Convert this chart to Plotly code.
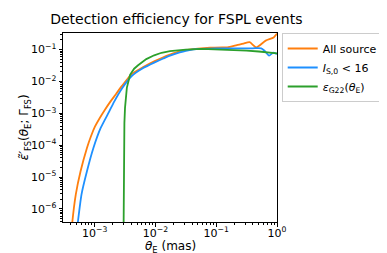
import plotly.graph_objects as go

# Data (log10 theta_E [mas], log10 efficiency)
all_lx = [-3.40, -3.373, -3.31, -3.231, -3.126, -3.06, -2.995, -2.92, -2.838, -2.732, -2.65, -2.55, -2.39, -2.2, -2.02, -1.87, -1.76, -1.6, -1.5, -1.3, -1.1, -0.9, -0.815, -0.66, -0.55, -0.45, -0.343, -0.186, -0.055, 0.0]
all_ly = [-7.2, -6.53, -5.55, -4.82, -4.09, -3.72, -3.42, -3.16, -2.91, -2.61, -2.40, -2.14, -1.77, -1.55, -1.37, -1.24, -1.16, -1.06, -1.02, -0.97, -0.94, -0.93, -0.93, -0.86, -0.81, -0.77, -0.93, -0.72, -0.62, -0.50]

bright_lx = [-3.30, -3.283, -3.216, -3.126, -3.02, -2.90, -2.759, -2.68, -2.55, -2.39, -2.2, -2.02, -1.87, -1.76, -1.6, -1.5, -1.3, -1.0, -0.7, -0.4, -0.26, -0.21, -0.13, -0.066, 0.0]
bright_ly = [-6.8, -6.53, -5.55, -4.82, -4.09, -3.46, -2.94, -2.64, -2.22, -1.83, -1.58, -1.41, -1.28, -1.19, -1.09, -1.04, -0.98, -0.96, -0.96, -0.96, -0.96, -1.03, -1.19, -1.10, -1.14]

g22_lx = [-2.525, -2.522, -2.518, -2.51, -2.50, -2.47, -2.417, -2.35, -2.29, -2.15, -2.02, -1.9, -1.76, -1.6, -1.5, -1.24, -1.0, -0.7, -0.5, -0.3, -0.15, 0.0]
g22_ly = [-7.0, -6.0, -4.5, -3.3, -2.83, -2.2, -1.79, -1.6, -1.5, -1.3, -1.18, -1.1, -1.05, -1.02, -1.0, -0.98, -0.99, -1.0, -1.03, -1.06, -1.09, -1.12]

x_tickvals = [1e-3, 1e-2, 1e-1, 1e0]
x_ticktext = ["10<sup>−3</sup>", "10<sup>−2</sup>", "10<sup>−1</sup>", "10<sup>0</sup>"]
y_tickvals = [1e-6, 1e-5, 1e-4, 1e-3, 1e-2, 1e-1]
y_ticktext = ["10<sup>−6</sup>", "10<sup>−5</sup>", "10<sup>−4</sup>", "10<sup>−3</sup>", "10<sup>−2</sup>", "10<sup>−1</sup>"]
x_minor = [m * 10.0 ** e for e in range(-4, 1) for m in range(2, 10)]
y_minor = [m * 10.0 ** e for e in range(-7, 0) for m in range(2, 10)]

x_title = "<i>θ</i><sub>E</sub> (mas)"
y_title = "<i>ε̃′</i><sub>FS</sub>(<i>θ</i><sub>E</sub>; Γ<sub>FS</sub>)"


def p(v):
    return [10 ** a for a in v]


fig = go.Figure()
fig.add_trace(go.Scatter(x=p(all_lx), y=p(all_ly), mode="lines", name="All source",
                         line=dict(color="#ff7f0e", width=1.8, shape="spline", smoothing=0.6)))
fig.add_trace(go.Scatter(x=p(bright_lx), y=p(bright_ly), mode="lines",
                         name="<i>I</i><sub>S,0</sub> < 16",
                         line=dict(color="#1e90ff", width=1.8, shape="spline", smoothing=0.6)))
fig.add_trace(go.Scatter(x=p(g22_lx), y=p(g22_ly), mode="lines",
                         name="<i>ε</i><sub>G22</sub>(<i>θ</i><sub>E</sub>)",
                         line=dict(color="#2ca02c", width=1.8)))

axis_common = dict(showline=True, linecolor="black", linewidth=1, mirror=True,
                   ticks="outside", ticklen=3.5, tickwidth=1, tickcolor="black",
                   showgrid=False, zeroline=False, automargin=False,
                   tickfont=dict(family="DejaVu Sans", size=11, color="black"))

fig.update_xaxes(type="log", range=[-3.52, 0], tickmode="array", tickvals=x_tickvals, ticktext=x_ticktext,
                 ticklabelstandoff=-3,
                 minor=dict(tickmode="array", tickvals=x_minor, ticks="outside", ticklen=2,
                            tickwidth=0.8, tickcolor="black", showgrid=False),
                 **axis_common)
fig.update_yaxes(type="log", range=[-6.41, -0.48], tickmode="array", tickvals=y_tickvals, ticktext=y_ticktext,
                 minor=dict(tickmode="array", tickvals=y_minor, ticks="outside", ticklen=2,
                            tickwidth=0.8, tickcolor="black", showgrid=False),
                 **axis_common)

fig.add_annotation(text=x_title, xref="paper", yref="paper", x=0.5, y=-0.132,
                   xanchor="center", yanchor="middle", showarrow=False,
                   font=dict(family="DejaVu Sans", size=12, color="black"))
fig.add_annotation(text=y_title, xref="paper", yref="paper", x=-0.179, y=0.5,
                   xanchor="center", yanchor="middle", showarrow=False, textangle=-90,
                   font=dict(family="DejaVu Sans", size=12, color="black"))

fig.update_layout(
    width=387, height=253,
    margin=dict(l=55, r=109, t=25, b=39),
    paper_bgcolor="white", plot_bgcolor="white",
    title=dict(text="Detection efficiency for FSPL events", x=0.435, xanchor="center",
               y=0.955, yanchor="middle",
               font=dict(family="DejaVu Sans", size=14, color="black")),
    font=dict(family="DejaVu Sans", color="black"),
    legend=dict(x=1.022, y=1.0, xanchor="left", yanchor="top",
                bordercolor="#cccccc", borderwidth=1, bgcolor="white",
                font=dict(family="DejaVu Sans", size=11, color="black"),
                tracegroupgap=0, itemwidth=30),
    showlegend=True,
)

fig.write_html("out.html")
